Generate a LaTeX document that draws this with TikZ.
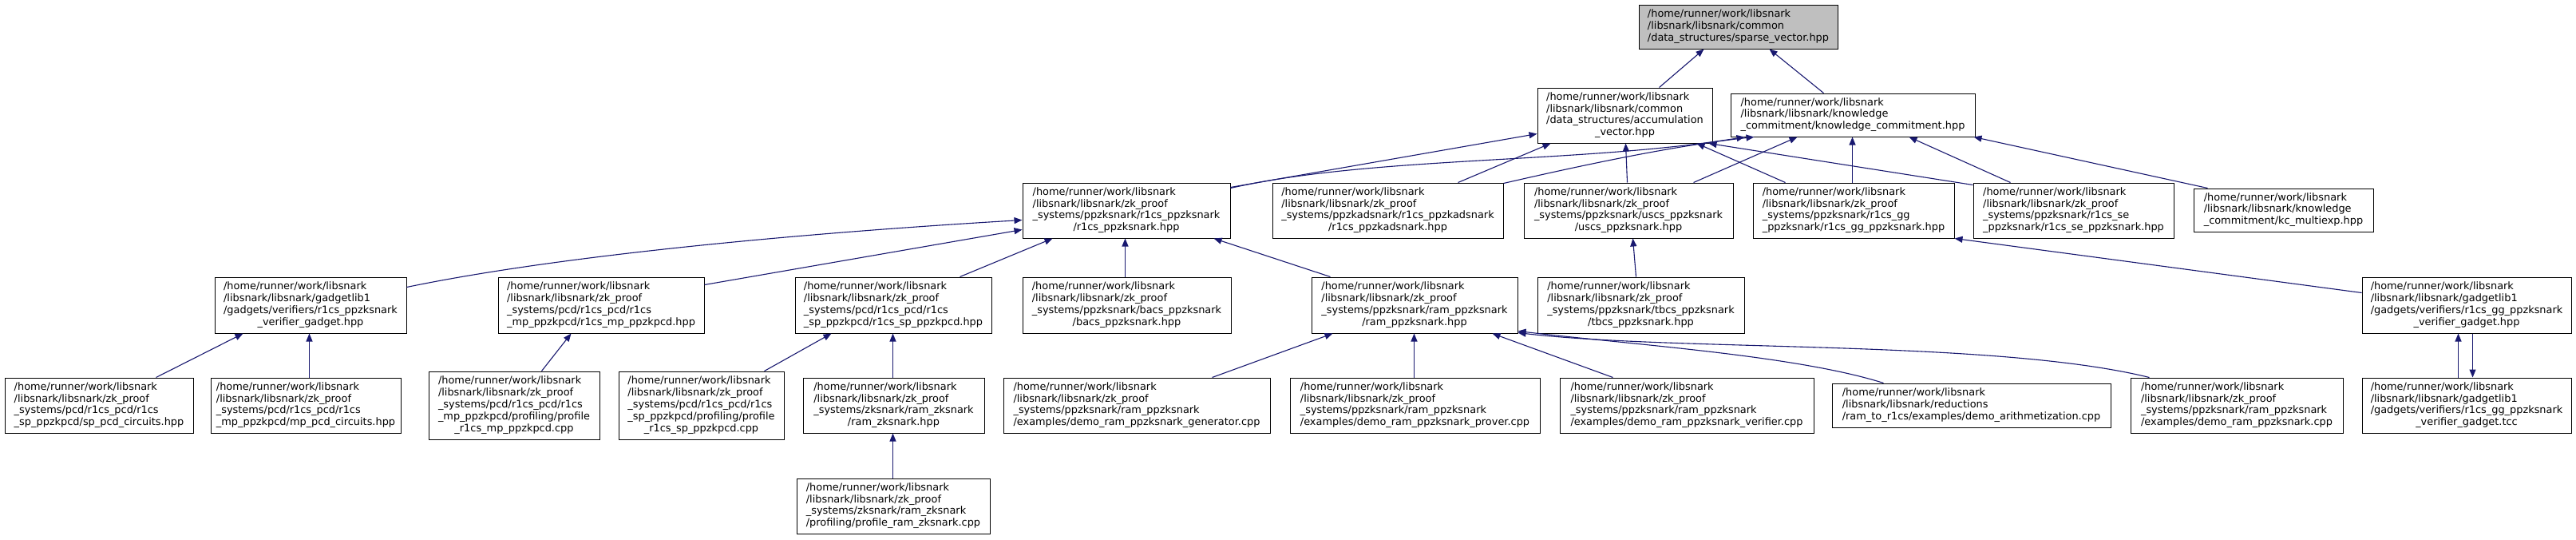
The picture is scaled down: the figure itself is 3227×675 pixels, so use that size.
\documentclass[tikz,border=0pt]{standalone}
\usepackage{fontspec}
\setmainfont{DejaVu Sans}
\usetikzlibrary{arrows.meta}
\definecolor{edgec}{HTML}{191970}
\definecolor{rootfill}{HTML}{BFBFBF}
\newcommand\mylbl[2]{\begin{tabular}{@{}l@{}}#1\\\multicolumn{1}{@{}c@{}}{#2}\end{tabular}}
\newcommand\hmp{/home/runner/work/libsnark\\}
\newcommand\zkp{/libsnark/libsnark/zk\_proof\\}
\tikzset{
  box/.style={draw=black, line width=1pt, fill=white, inner sep=0pt, font=\fontsize{12.9}{14.8}\selectfont},
  root/.style={box, fill=rootfill},
  edge/.style={draw=edgec, line width=1.1pt, -{Triangle[length=10pt,width=8pt]}},
}
\begin{document}
\begin{tikzpicture}[x=1pt,y=-1pt]
\useasboundingbox (0,0) rectangle (3227,675);
\fill[white] (0,0) rectangle (3227,675);
% row 1
\node[root, minimum width=249pt, minimum height=55pt] (sv) at (2177.5,33.5) {\mylbl{\hmp /libsnark/libsnark/common}{/data\_structures/sparse\_vector.hpp}};
% row 2
\node[box, minimum width=219pt, minimum height=69pt] (acc) at (2035.5,144.5) {\mylbl{\hmp /libsnark/libsnark/common\\/data\_structures/accumulation}{\_vector.hpp}};
\node[box, minimum width=306pt, minimum height=54pt] (kc) at (2321,144) {\mylbl{\hmp /libsnark/libsnark/knowledge}{\_commitment/knowledge\_commitment.hpp}};
% row 3
\node[box, minimum width=260pt, minimum height=69pt] (A) at (1411,263.5) {\mylbl{\hmp \zkp \_systems/ppzksnark/r1cs\_ppzksnark}{/r1cs\_ppzksnark.hpp}};
\node[box, minimum width=289pt, minimum height=69pt] (B) at (1738.5,263.5) {\mylbl{\hmp \zkp \_systems/ppzkadsnark/r1cs\_ppzkadsnark}{/r1cs\_ppzkadsnark.hpp}};
\node[box, minimum width=262pt, minimum height=69pt] (C) at (2040,263.5) {\mylbl{\hmp \zkp \_systems/ppzksnark/uscs\_ppzksnark}{/uscs\_ppzksnark.hpp}};
\node[box, minimum width=252pt, minimum height=69pt] (D) at (2322,263.5) {\mylbl{\hmp \zkp \_systems/ppzksnark/r1cs\_gg}{\_ppzksnark/r1cs\_gg\_ppzksnark.hpp}};
\node[box, minimum width=251pt, minimum height=69pt] (E) at (2597.5,263.5) {\mylbl{\hmp \zkp \_systems/ppzksnark/r1cs\_se}{\_ppzksnark/r1cs\_se\_ppzksnark.hpp}};
\node[box, minimum width=225pt, minimum height=54pt] (F) at (2860.5,263) {\mylbl{\hmp /libsnark/libsnark/knowledge}{\_commitment/kc\_multiexp.hpp}};
% row 4
\node[box, minimum width=240pt, minimum height=70pt] (G) at (389,382) {\mylbl{\hmp /libsnark/libsnark/gadgetlib1\\/gadgets/verifiers/r1cs\_ppzksnark}{\_verifier\_gadget.hpp}};
\node[box, minimum width=258pt, minimum height=70pt] (H) at (753,382) {\mylbl{\hmp \zkp \_systems/pcd/r1cs\_pcd/r1cs}{\_mp\_ppzkpcd/r1cs\_mp\_ppzkpcd.hpp}};
\node[box, minimum width=246pt, minimum height=70pt] (I) at (1119,382) {\mylbl{\hmp \zkp \_systems/pcd/r1cs\_pcd/r1cs}{\_sp\_ppzkpcd/r1cs\_sp\_ppzkpcd.hpp}};
\node[box, minimum width=261pt, minimum height=70pt] (J) at (1411.5,382) {\mylbl{\hmp \zkp \_systems/ppzksnark/bacs\_ppzksnark}{/bacs\_ppzksnark.hpp}};
\node[box, minimum width=258pt, minimum height=70pt] (K) at (1772,382) {\mylbl{\hmp \zkp \_systems/ppzksnark/ram\_ppzksnark}{/ram\_ppzksnark.hpp}};
\node[box, minimum width=259pt, minimum height=70pt] (L) at (2055.5,382) {\mylbl{\hmp \zkp \_systems/ppzksnark/tbcs\_ppzksnark}{/tbcs\_ppzksnark.hpp}};
\node[box, minimum width=262pt, minimum height=70pt] (M) at (3090,382) {\mylbl{\hmp /libsnark/libsnark/gadgetlib1\\/gadgets/verifiers/r1cs\_gg\_ppzksnark}{\_verifier\_gadget.hpp}};
% row 5
\node[box, minimum width=236pt, minimum height=69pt] (sp) at (124,507.5) {\mylbl{\hmp \zkp \_systems/pcd/r1cs\_pcd/r1cs}{\_sp\_ppzkpcd/sp\_pcd\_circuits.hpp}};
\node[box, minimum width=238pt, minimum height=69pt] (mp) at (383,507.5) {\mylbl{\hmp \zkp \_systems/pcd/r1cs\_pcd/r1cs}{\_mp\_ppzkpcd/mp\_pcd\_circuits.hpp}};
\node[box, minimum width=214pt, minimum height=85pt] (pm) at (644,507.5) {\mylbl{\hmp \zkp \_systems/pcd/r1cs\_pcd/r1cs\\\_mp\_ppzkpcd/profiling/profile}{\_r1cs\_mp\_ppzkpcd.cpp}};
\node[box, minimum width=207pt, minimum height=85pt] (ps) at (878.5,507.5) {\mylbl{\hmp \zkp \_systems/pcd/r1cs\_pcd/r1cs\\\_sp\_ppzkpcd/profiling/profile}{\_r1cs\_sp\_ppzkpcd.cpp}};
\node[box, minimum width=227pt, minimum height=69pt] (N) at (1119.5,507.5) {\mylbl{\hmp \zkp \_systems/zksnark/ram\_zksnark}{/ram\_zksnark.hpp}};
\node[box, minimum width=334pt, minimum height=69pt] (dg) at (1424,507.5) {\mylbl{\hmp \zkp \_systems/ppzksnark/ram\_ppzksnark}{/examples/demo\_ram\_ppzksnark\_generator.cpp}};
\node[box, minimum width=313pt, minimum height=69pt] (dp) at (1772.5,507.5) {\mylbl{\hmp \zkp \_systems/ppzksnark/ram\_ppzksnark}{/examples/demo\_ram\_ppzksnark\_prover.cpp}};
\node[box, minimum width=318pt, minimum height=69pt] (dv) at (2113,507.5) {\mylbl{\hmp \zkp \_systems/ppzksnark/ram\_ppzksnark}{/examples/demo\_ram\_ppzksnark\_verifier.cpp}};
\node[box, minimum width=349pt, minimum height=55pt] (da) at (2469.5,507.5) {\mylbl{\hmp /libsnark/libsnark/reductions}{/ram\_to\_r1cs/examples/demo\_arithmetization.cpp}};
\node[box, minimum width=266pt, minimum height=69pt] (dr) at (2802,507.5) {\mylbl{\hmp \zkp \_systems/ppzksnark/ram\_ppzksnark}{/examples/demo\_ram\_ppzksnark.cpp}};
\node[box, minimum width=262pt, minimum height=69pt] (tcc) at (3090,507.5) {\mylbl{\hmp /libsnark/libsnark/gadgetlib1\\/gadgets/verifiers/r1cs\_gg\_ppzksnark}{\_verifier\_gadget.tcc}};
% row 6
\node[box, minimum width=242pt, minimum height=69pt] (pr) at (1119,633.5) {\mylbl{\hmp \zkp \_systems/zksnark/ram\_zksnark}{/profiling/profile\_ram\_zksnark.cpp}};
% edges
\draw[edge] ([xshift=153pt]acc.north west) -- ([xshift=82pt]sv.south west);
\draw[edge] ([xshift=117pt]kc.north west) -- ([xshift=164pt]sv.south west);
\draw[edge] ([yshift=-6pt]A.north east) -- ([yshift=12pt]acc.south west);
\draw[edge] ([yshift=-7pt]A.north east) .. controls (1720,195) and (1980,205) .. ([xshift=18pt]kc.south west);
\draw[edge] ([xshift=233pt]B.north west) -- ([xshift=17pt]acc.south west);
\draw[edge] ([yshift=-1pt]B.north east) .. controls (1990,205) and (2100,182) .. ([xshift=30pt]kc.south west);
\draw[edge] ([xshift=130pt]C.north west) -- ([xshift=111pt]acc.south west);
\draw[edge] ([xshift=213pt]C.north west) -- ([xshift=84pt]kc.south west);
\draw[edge] ([xshift=41pt]D.north west) -- ([xshift=200pt]acc.south west);
\draw[edge] ([xshift=125pt]D.north west) -- ([xshift=153pt]kc.south west);
\draw[edge] ([yshift=-3pt]E.north west) -- ([xshift=-5pt]acc.south east);
\draw[edge] ([xshift=47pt]E.north west) -- ([xshift=224pt]kc.south west);
\draw[edge] ([xshift=18pt]F.north west) -- ([xshift=-2pt]kc.south east);
\draw[edge] ([yshift=-13pt]G.north east) .. controls (700,320) and (1000,292) .. ([yshift=-47pt]A.north west);
\draw[edge] ([yshift=-10pt]H.north east) -- ([yshift=-59pt]A.north west);
\draw[edge] ([xshift=207pt]I.north west) -- ([xshift=38pt]A.south west);
\draw[edge] ([xshift=129pt]J.north west) -- ([xshift=129pt]A.south west);
\draw[edge] ([xshift=24pt]K.north west) -- ([xshift=240pt]A.south west);
\draw[edge] ([xshift=124pt]L.north west) -- ([xshift=137pt]C.south west);
\draw[edge] ([yshift=-20pt]M.north west) -- (D.south east);
\draw[edge] ([xshift=190pt]sp.north west) -- ([xshift=36pt]G.south west);
\draw[edge] ([xshift=124pt]mp.north west) -- ([xshift=119pt]G.south west);
\draw[edge] ([xshift=142pt]pm.north west) -- ([xshift=92pt]H.south west);
\draw[edge] ([xshift=183pt]ps.north west) -- ([xshift=46pt]I.south west);
\draw[edge] ([xshift=113pt]N.north west) -- ([xshift=123pt]I.south west);
\draw[edge] ([xshift=121pt]pr.north west) -- ([xshift=113pt]N.south west);
\draw[edge] ([xshift=262pt]dg.north west) -- ([xshift=27pt]K.south west);
\draw[edge] ([xshift=156pt]dp.north west) -- ([xshift=129pt]K.south west);
\draw[edge] ([xshift=67pt]dv.north west) -- ([xshift=227pt]K.south west);
\draw[edge] ([xshift=65pt]da.north west) .. controls (2250,445) and (2050,432) .. ([yshift=3pt]K.south east);
\draw[edge] ([xshift=24pt]dr.north west) .. controls (2500,425) and (2100,440) .. ([yshift=1pt]K.south east);
\draw[edge] ([xshift=121pt]tcc.north west) -- ([xshift=121pt]M.south west);
\draw[edge] ([xshift=139pt]M.south west) -- ([xshift=139pt]tcc.north west);
\end{tikzpicture}
\end{document}
